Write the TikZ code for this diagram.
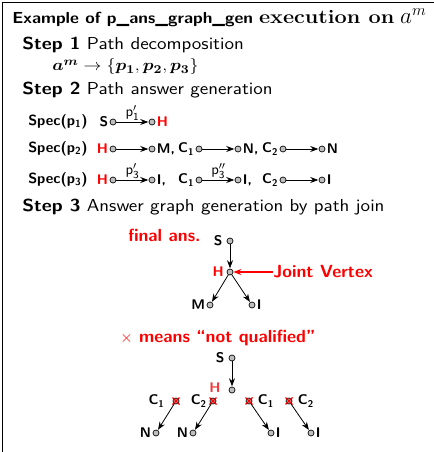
\documentclass[tikz,border=0pt]{standalone}
\usepackage{amsmath,amssymb,bm,graphicx}
\usetikzlibrary{arrows.meta}
\definecolor{hred}{RGB}{240,60,60}
\newcommand{\hs}[1]{\scalebox{1.12}[1]{#1}}
\begin{document}
\begin{tikzpicture}[x=0.75pt,y=-0.75pt,
  v/.style={circle,draw=black,fill=gray!50,inner sep=0pt,minimum size=4.5pt,line width=0.5pt},
  lbl/.style={font=\fontsize{10.5}{13}\sffamily\bfseries,inner sep=1pt},
  rowlbl/.style={font=\fontsize{11}{13}\sffamily\bfseries,inner sep=0pt,anchor=west},
  steptxt/.style={font=\fontsize{13}{15}\sffamily,inner sep=0pt,anchor=west},
  plbl/.style={font=\fontsize{11}{13}\sffamily,inner sep=0.5pt},
  redtxt/.style={font=\fontsize{13.2}{16}\sffamily\bfseries,text=red,inner sep=0pt},
  edge/.style={-{Stealth[length=6pt,width=4.5pt]},line width=0.6pt,shorten >=0.3pt},
  xmark/.style={draw=red,line width=0.9pt}]
\useasboundingbox (0,0) rectangle (433,452);
% frame (only left and top edges fall inside the picture)
\draw[line width=0.8pt] (2.5,470) -- (2.5,2.5) -- (450,2.5);
% title
\node[anchor=base west,inner sep=0pt,font=\fontsize{12}{14}\sffamily\bfseries] (title) at (12,24)
  {\scalebox{1.08}[1]{Example of p\_ans\_graph\_gen} \hs{\fontsize{14.5}{17}\rmfamily\bfseries execution on} {\fontsize{16.5}{18}\selectfont$a^m$}};
% step 1
\node[steptxt] (st1) at (22,45) {\hs{\textbf{Step 1} Path decomposition}};
\node[anchor=west,inner sep=0pt,font=\fontsize{12.6}{15}\selectfont] (dec) at (52,67)
  {\hs{$\bm{a^m} \rightarrow \{\bm{p_1}, \bm{p_2}, \bm{p_3}\}$}};
% step 2
\node[steptxt] (st2) at (22,90) {\hs{\textbf{Step 2} Path answer generation}};
% row 1
\node[rowlbl] (sp1) at (28,122) {Spec(p\textsubscript{1})};
\node[v] (r1a) at (113,122) {};
\node[v] (r1b) at (152,122) {};
\node[lbl,anchor=east] at (r1a.west) {S};
\node[lbl,anchor=west,text=red] at (r1b.east) {H};
\draw[edge] (r1a) -- node[plbl,above] {$\mathsf{p}'_{\mathsf{1}}$} (r1b);
% row 2
\node[rowlbl] (sp2) at (28,149) {Spec(p\textsubscript{2})};
\node[v] (r2a) at (113,149) {};
\node[v] (r2b) at (152,149) {};
\node[v] (r2c) at (199,149) {};
\node[v] (r2d) at (238,149) {};
\node[v] (r2e) at (283,149) {};
\node[v] (r2f) at (322,149) {};
\node[lbl,anchor=east,text=red] at (r2a.west) {H};
\node[lbl,anchor=west] at (r2b.east) {M,};
\node[lbl,anchor=east] at (r2c.west) {C\textsubscript{1}};
\node[lbl,anchor=west] at (r2d.east) {N,};
\node[lbl,anchor=east] at (r2e.west) {C\textsubscript{2}};
\node[lbl,anchor=west] at (r2f.east) {N};
\draw[edge] (r2a) -- (r2b);
\draw[edge] (r2c) -- (r2d);
\draw[edge] (r2e) -- (r2f);
% row 3
\node[rowlbl] (sp3) at (28,180) {Spec(p\textsubscript{3})};
\node[v] (r3a) at (113,180) {};
\node[v] (r3b) at (152,180) {};
\node[v] (r3c) at (199,180) {};
\node[v] (r3d) at (238,180) {};
\node[v] (r3e) at (283,180) {};
\node[v] (r3f) at (322,180) {};
\node[lbl,anchor=east,text=red] at (r3a.west) {H};
\node[lbl,anchor=west] at (r3b.east) {I,};
\node[lbl,anchor=east] at (r3c.west) {C\textsubscript{1}};
\node[lbl,anchor=west] at (r3d.east) {I,};
\node[lbl,anchor=east] at (r3e.west) {C\textsubscript{2}};
\node[lbl,anchor=west] at (r3f.east) {I};
\draw[edge] (r3a) -- node[plbl,above] {$\mathsf{p}'_{\mathsf{3}}$} (r3b);
\draw[edge] (r3c) -- node[plbl,above] {$\mathsf{p}''_{\mathsf{3}}$} (r3d);
\draw[edge] (r3e) -- (r3f);
% step 3
\node[steptxt] (st3) at (22,207) {\hs{\textbf{Step 3} Answer graph generation by path join}};
% final answer graph
\node[redtxt,anchor=west] (fin) at (128,235) {final ans.};
\node[v] (fS) at (230,241) {};
\node[v] (fH) at (230,272) {};
\node[v] (fM) at (210,305) {};
\node[v] (fI) at (252,305) {};
\node[lbl,anchor=east] at ([xshift=-2pt]fS.west) {S};
\node[lbl,anchor=east,text=red] at ([xshift=-1pt]fH.west) {H};
\node[lbl,anchor=east] at (fM.west) {M};
\node[lbl,anchor=west] at (fI.east) {I};
\draw[edge] (fS) -- (fH);
\draw[edge] (fH) -- (fM);
\draw[edge] (fH) -- (fI);
\node[redtxt,anchor=west] (jv) at (273,272) {Joint Vertex};
\draw[-{Stealth[length=6pt,width=4.5pt]},red,line width=0.8pt] (jv.west) -- (fH.east);
% not qualified graph
\node[redtxt,anchor=west] (nq) at (120,338) {$\times$ means ``not qualified''};
\node[v] (qS) at (232,358) {};
\node[v] (qH) at (232,390) {};
\node[lbl,anchor=east] at ([xshift=-2pt]qS.west) {S};
\node[lbl,anchor=east,text=hred] at ([xshift=-5pt,yshift=1.5pt]qH.west) {H};
\draw[edge] (qS) -- (qH);
\foreach \n/\x in {x1/176,x2/213,x3/249,x4/289}{
  \node[v] (\n) at (\x,401) {};
  \draw[xmark] ([shift={(-3.5,-3.5)}]\n.center) -- ([shift={(3.5,3.5)}]\n.center);
  \draw[xmark] ([shift={(-3.5,3.5)}]\n.center) -- ([shift={(3.5,-3.5)}]\n.center);
}
\node[lbl,anchor=east] at ([xshift=-5pt]x1.west) {C\textsubscript{1}};
\node[lbl,anchor=east] at ([xshift=-1pt]x2.west) {C\textsubscript{2}};
\node[lbl,anchor=west] at ([xshift=3pt]x3.east) {C\textsubscript{1}};
\node[lbl,anchor=west] at ([xshift=3pt]x4.east) {C\textsubscript{2}};
\node[v] (b1) at (156,433) {};
\node[v] (b2) at (193,433) {};
\node[v] (b3) at (271,433) {};
\node[v] (b4) at (311,433) {};
\node[lbl,anchor=east] at (b1.west) {N};
\node[lbl,anchor=east] at (b2.west) {N};
\node[lbl,anchor=west] at (b3.east) {I};
\node[lbl,anchor=west] at (b4.east) {I};
\draw[edge] (x1) -- (b1);
\draw[edge] (x2) -- (b2);
\draw[edge] (x3) -- (b3);
\draw[edge] (x4) -- (b4);
\end{tikzpicture}
\end{document}
